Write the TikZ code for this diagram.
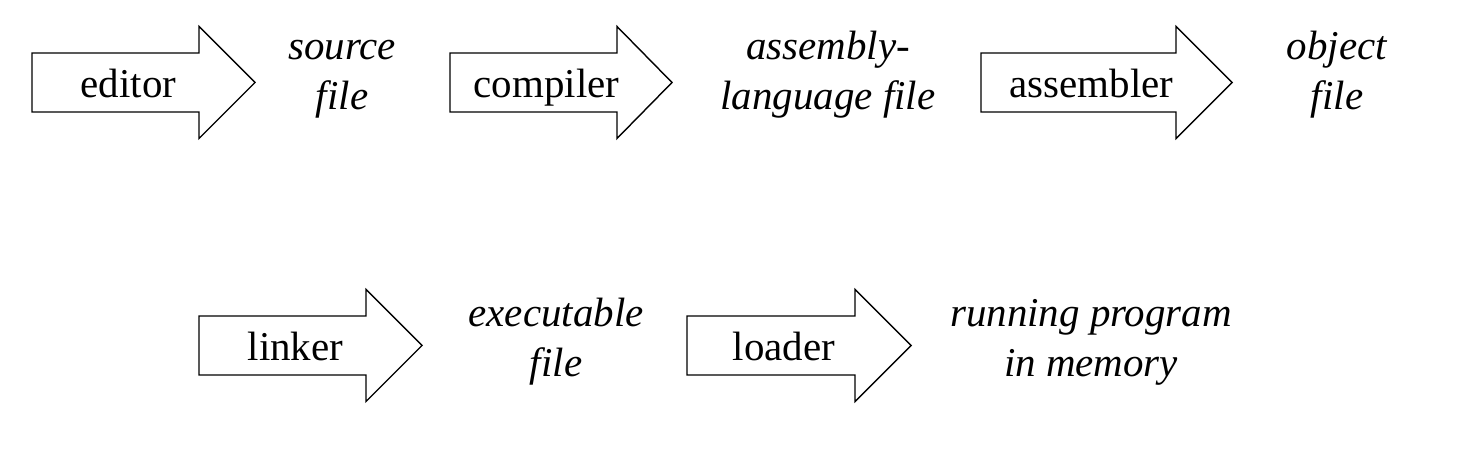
\documentclass[tikz,border=0pt]{standalone}
\usepackage{fontspec}
\setmainfont{Liberation Serif}
\usetikzlibrary{calc}

\tikzset{tool/.style={anchor=base, font=\fontsize{23.3}{28}\selectfont},
         product/.style={anchor=base, align=center, font=\fontsize{23.3}{28.5}\selectfont\itshape}}

\begin{document}
\begin{tikzpicture}
\useasboundingbox (0,0) rectangle (29.56,9.04);
% tail / head base / tip / centre line / name / text
\foreach \t/\b/\p/\y/\n/\s in {0.64/3.98/5.10/7.39/edit/editor, 9.00/12.34/13.44/7.39/comp/compiler, 19.62/23.52/24.64/7.39/asm/assembler, 3.98/7.32/8.44/2.13/link/linker, 13.74/17.10/18.22/2.13/load/loader}
{
\draw[black, line width=.8pt, line join=miter] (\t,\y+.59) -- (\b,\y+.59) -- (\b,\y+1.12) -- (\p,\y) -- (\b,\y-1.12) -- (\b,\y-.59) -- (\t,\y-.59) -- cycle;
\node[tool] (\n) at ({(\t+\b)/2+.26},\y-.30) {\s};
}
% base anchor sits on the last line
\node[product] (src) at (6.84,6.84) {source\\file};
\node[product] (asmfile) at (16.56,6.84) {assembly-\\language file};
\node[product] (obj) at (26.74,6.84) {object\\file};
\node[product] (exe) at (11.12,1.50) {executable\\file};
\node[product] (run) at (21.82,1.50) {running program\\in memory};

\end{tikzpicture}
\end{document}
